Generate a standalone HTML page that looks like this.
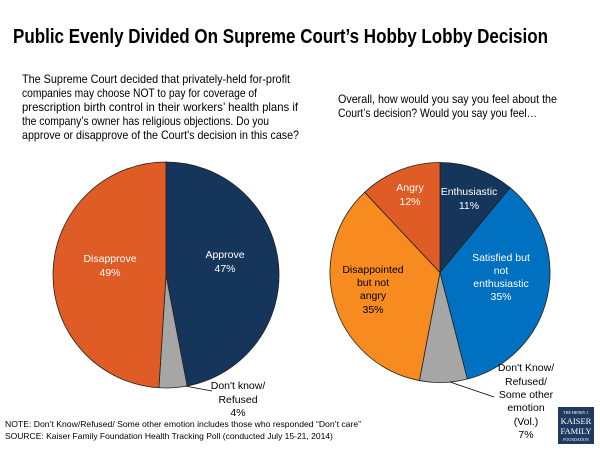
<!DOCTYPE html>
<html><head><meta charset="utf-8"><style>
html,body{margin:0;padding:0;background:#fff;}
svg{display:block;font-family:"Liberation Sans",Arial,sans-serif;}
</style></head><body>
<svg id="chart" width="600" height="450" viewBox="0 0 600 450">
<text x="13" y="43" font-size="20" font-weight="bold" fill="#000" textLength="535" lengthAdjust="spacingAndGlyphs">Public Evenly Divided On Supreme Court’s Hobby Lobby Decision</text>
<g font-size="12" fill="#000">
<text x="22" y="83" textLength="268" lengthAdjust="spacingAndGlyphs">The Supreme Court decided that privately-held for-profit</text>
<text x="22" y="97" textLength="235" lengthAdjust="spacingAndGlyphs">companies may choose NOT to pay for coverage of</text>
<text x="22" y="111" textLength="276" lengthAdjust="spacingAndGlyphs">prescription birth control in their workers’ health plans if</text>
<text x="22" y="125" textLength="247" lengthAdjust="spacingAndGlyphs">the company’s owner has religious objections. Do you</text>
<text x="22" y="139" textLength="277" lengthAdjust="spacingAndGlyphs">approve or disapprove of the Court's decision in this case?</text>
</g>
<g font-size="12" fill="#000">
<text x="338" y="103" textLength="219" lengthAdjust="spacingAndGlyphs">Overall, how would you say you feel about the</text>
<text x="338" y="117" textLength="199" lengthAdjust="spacingAndGlyphs">Court’s decision? Would you say you feel…</text>
</g>
<g id="leftPie"></g>
<g id="rightPie"></g>
<g font-size="10.5" text-anchor="middle">
<text x="110" y="262" fill="#fff">Disapprove</text><text x="110" y="276" fill="#fff">49%</text>
<text x="225" y="258" fill="#fff">Approve</text><text x="225" y="272" fill="#fff">47%</text>
<text x="238" y="389" fill="#000">Don't know/</text><text x="238" y="403" fill="#000">Refused</text><text x="238" y="416" fill="#000">4%</text>
<line x1="185" y1="386" x2="212" y2="391" stroke="#000" stroke-width="0.8"/>
</g>
<g font-size="10.5" text-anchor="middle">
<text x="469" y="195" fill="#fff">Enthusiastic</text><text x="469" y="209" fill="#fff">11%</text>
<text x="410" y="191" fill="#fff">Angry</text><text x="410" y="205" fill="#fff">12%</text>
<text x="501" y="261" fill="#fff">Satisfied but</text><text x="501" y="274" fill="#fff">not</text><text x="501" y="287" fill="#fff">enthusiastic</text><text x="501" y="300" fill="#fff">35%</text>
<text x="373" y="273" fill="#000">Disappointed</text><text x="373" y="286" fill="#000">but not</text><text x="373" y="299" fill="#000">angry</text><text x="373" y="313" fill="#000">35%</text>
<text x="526" y="371" fill="#000">Don't Know/</text><text x="526" y="385" fill="#000">Refused/</text><text x="526" y="398" fill="#000">Some other</text><text x="526" y="411" fill="#000">emotion</text><text x="526" y="425" fill="#000">(Vol.)</text><text x="526" y="438" fill="#000">7%</text>
<line x1="450" y1="382" x2="494" y2="397" stroke="#000" stroke-width="0.8"/>
</g>
<g font-size="8.5" fill="#000">
<text x="5" y="427" textLength="356" lengthAdjust="spacingAndGlyphs">NOTE: Don’t Know/Refused/ Some other emotion includes those who responded “Don’t care”</text>
<text x="5" y="439">SOURCE: Kaiser Family Foundation Health Tracking Poll (conducted July 15-21, 2014)</text>
</g>
<g>
<rect x="558" y="407" width="36" height="37" fill="#1f3a5f"/>
<text x="576" y="414" font-size="4" fill="#fff" text-anchor="middle" font-family="Liberation Serif,serif">THE HENRY J.</text>
<text x="576" y="424" font-size="8.5" fill="#fff" text-anchor="middle" font-family="Liberation Serif,serif">KAISER</text>
<text x="576" y="434" font-size="8.5" fill="#fff" text-anchor="middle" font-family="Liberation Serif,serif">FAMILY</text>
<text x="576" y="441" font-size="4" fill="#fff" text-anchor="middle" font-family="Liberation Serif,serif">FOUNDATION</text>
</g>
</svg>
<script>
const leftCategories = ["Approve","Don't know/Refused","Disapprove"];
const leftValues = [47, 4, 49];
const leftColors = ["#15355A","#A6A6A6","#E05C27"];
const rightCategories = ["Enthusiastic","Satisfied but not enthusiastic","Don't Know/Refused/Other","Disappointed but not angry","Angry"];
const rightValues = [11, 35, 7, 35, 12];
const rightColors = ["#15355A","#0070C0","#A6A6A6","#F78B1F","#E05C27"];
const NS = "http://www.w3.org/2000/svg";
function drawPie(gid, cats, vals, cols, cx, cy, r) {
  const g = document.getElementById(gid);
  const total = vals.reduce((a,b)=>a+b,0);
  let a0 = -Math.PI/2;
  vals.forEach((v,i)=>{
    const a1 = a0 + v/total*2*Math.PI;
    const x0 = cx + r*Math.cos(a0), y0 = cy + r*Math.sin(a0);
    const x1 = cx + r*Math.cos(a1), y1 = cy + r*Math.sin(a1);
    const large = (a1-a0) > Math.PI ? 1 : 0;
    const p = document.createElementNS(NS,"path");
    p.setAttribute("d",`M${cx},${cy} L${x0},${y0} A${r},${r} 0 ${large} 1 ${x1},${y1} Z`);
    p.setAttribute("fill",cols[i]);
    p.setAttribute("stroke","#222");
    p.setAttribute("stroke-width","0.8");
    
    
    g.appendChild(p);
    a0 = a1;
  });
}
drawPie("leftPie", leftCategories, leftValues, leftColors, 166, 275, 113);
drawPie("rightPie", rightCategories, rightValues, rightColors, 440, 272.5, 110);
</script>
</body></html>
